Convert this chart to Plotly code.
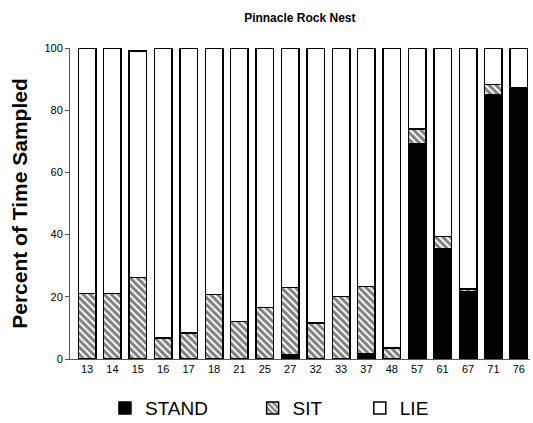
import plotly.graph_objects as go

categories = ["13", "14", "15", "16", "17", "18", "21", "25", "27", "32", "33", "37", "48", "57", "61", "67", "71", "76"]
stand = [None, None, None, None, None, None, None, None, 1.3, None, None, 1.7, None, 69.3, 35.6, 21.7, 85.1, 87.3]
sit = [21, 21, 26.2, 6.8, 8.3, 20.8, 12, 16.6, 21.7, 11.5, 20.1, 21.6, 3.5, 4.6, 3.8, 0.8, 3.1, None]
lie = [79, 79, 72.8, 93.2, 91.7, 79.2, 88, 83.4, 77, 88.5, 79.9, 76.7, 96.5, 26.1, 60.6, 77.5, 11.8, 12.7]

FONT = "Liberation Sans, Arial, sans-serif"
line = dict(color="black", width=1.5)

fig = go.Figure()
fig.add_trace(go.Bar(x=categories, y=stand, name="STAND", marker=dict(color="black", line=line),
                     legend="legend"))
fig.add_trace(go.Bar(x=categories, y=sit, name="SIT",
                     marker=dict(color="white", line=line,
                                 pattern=dict(shape="\\", fgcolor="black", bgcolor="white", size=5, solidity=0.6)),
                     legend="legend2"))
fig.add_trace(go.Bar(x=categories, y=lie, name="LIE", marker=dict(color="white", line=line),
                     legend="legend3"))

leg = dict(orientation="h", yanchor="middle", y=-0.158, xanchor="left",
           font=dict(family=FONT, size=19, color="black"), bgcolor="rgba(0,0,0,0)")

fig.update_layout(
    barmode="stack",
    bargap=0.31,
    showlegend=True,
    width=533, height=423,
    margin=dict(l=70, r=3, t=47.7, b=63.7, autoexpand=False),
    paper_bgcolor="white", plot_bgcolor="white",
    font=dict(family=FONT, color="black"),
    title=dict(text="<b>Pinnacle Rock Nest</b>", x=0.5625, xanchor="center", y=0.957, yanchor="middle",
               font=dict(size=12, family=FONT, color="black")),
    legend=dict(leg, x=0.076),
    legend2=dict(leg, x=0.397),
    legend3=dict(leg, x=0.63),
    xaxis=dict(range=[-0.67, 17.44], showline=True, linecolor="#555", linewidth=1, ticks="",
               tickfont=dict(size=11, family=FONT, color="black"), showgrid=False, zeroline=False),
    yaxis=dict(range=[0, 100], tickvals=[0, 20, 40, 60, 80, 100], showline=True, linecolor="#555", linewidth=1,
               ticks="outside", ticklen=4, tickcolor="#555", showgrid=False, zeroline=False,
               tickfont=dict(size=11, family=FONT, color="black"),
               title=dict(text="<b>Percent of Time Sampled</b>", font=dict(size=21, family=FONT, color="black"),
                          standoff=11)),
)

fig.write_html("out.html")
